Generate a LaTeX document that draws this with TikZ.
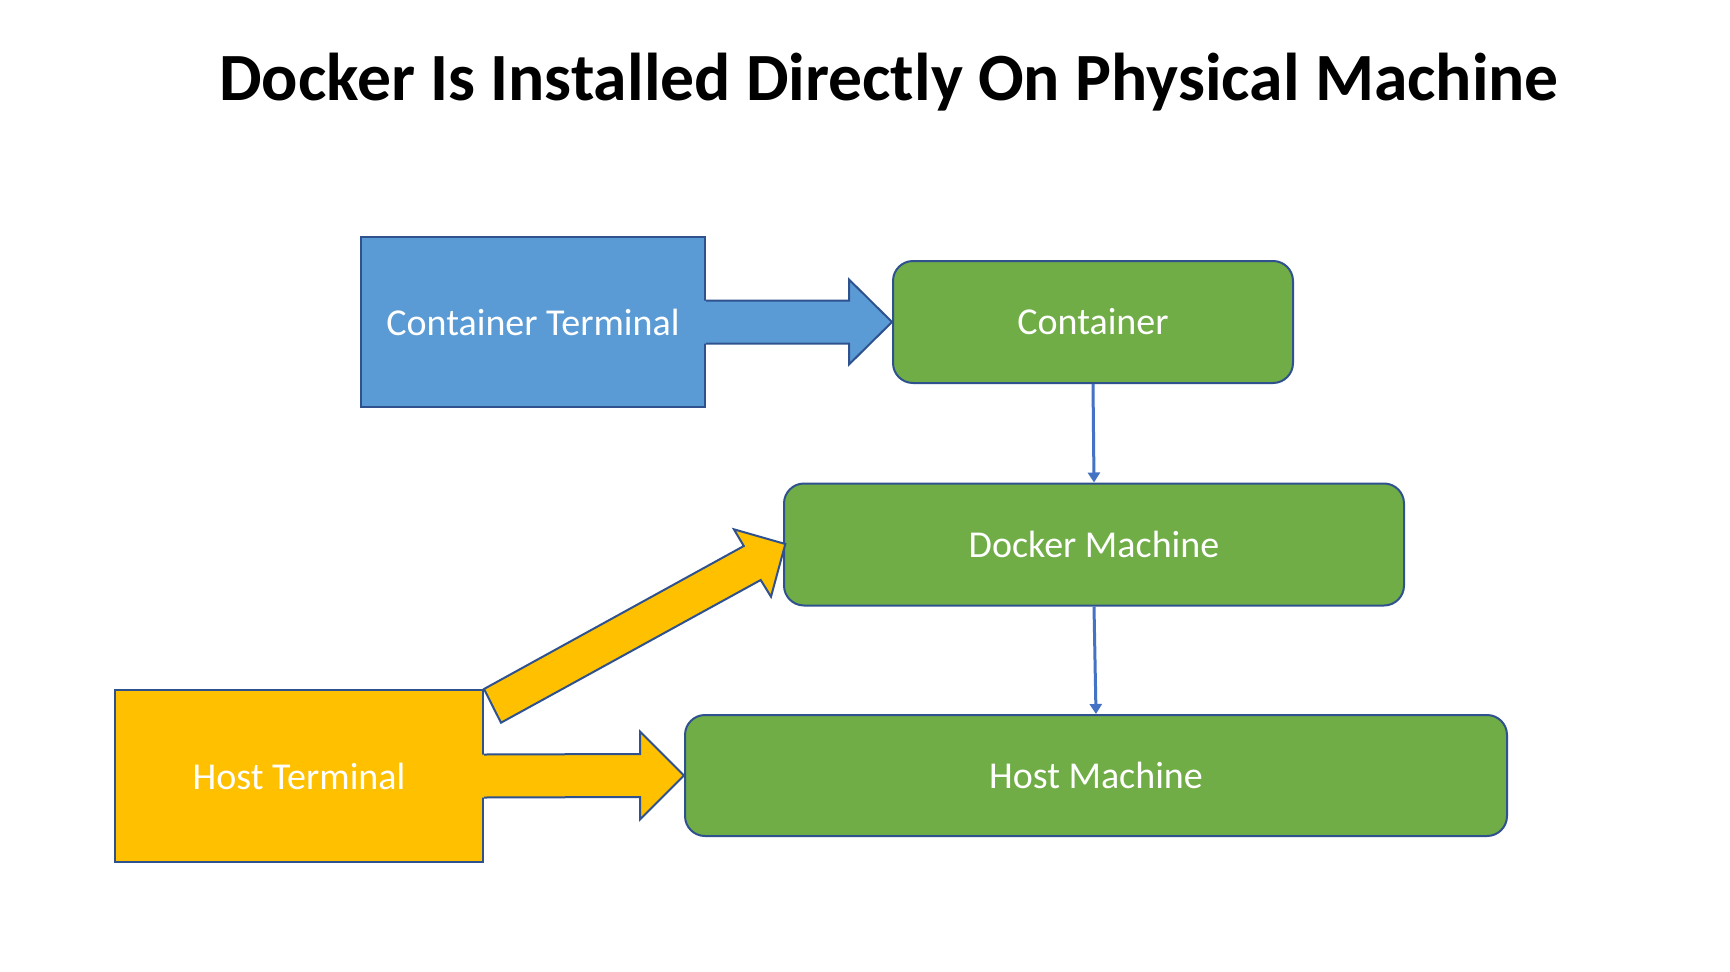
\documentclass[tikz,border=0pt]{standalone}
\usepackage{fontspec}
\setmainfont{Carlito}
\usetikzlibrary{arrows.meta,calc}
\definecolor{boxblue}{HTML}{5B9BD5}
\definecolor{boxgreen}{HTML}{70AD47}
\definecolor{boxyellow}{HTML}{FFC000}
\definecolor{edgeblue}{HTML}{2F528F}
\definecolor{lineblue}{HTML}{4472C4}
\begin{document}
\begin{tikzpicture}[x=1pt,y=-1pt,
  sqbox/.style={draw=edgeblue,line width=2pt,text=white,inner sep=0pt,
    font=\fontsize{38}{45}\selectfont},
  rbox/.style={sqbox,fill=boxgreen,rounded corners=20pt},
  link/.style={draw=lineblue,line width=3pt,-{Triangle[width=12pt,length=10pt]}},
  blockedge/.style={draw=edgeblue,line width=2pt,line join=miter},
]
\useasboundingbox (0,0) rectangle (1730,972);
\fill[white] (0,0) rectangle (1730,972);

\node[font=\fontsize{67.6}{80}\selectfont\bfseries,anchor=base] (title) at (889,100.7)
  {Docker Is Installed Directly On Physical Machine};

% boxes
\node[sqbox,fill=boxblue,minimum width=344pt,minimum height=170pt] (ct) at (533,322) {Container Terminal};
\node[sqbox,fill=boxyellow,minimum width=368pt,minimum height=172pt] (ht) at (299,776) {Host Terminal};
\node[rbox,minimum width=400pt,minimum height=122pt] (c) at (1093,322) {Container};
\node[rbox,minimum width=620pt,minimum height=122pt] (dm) at (1094,544.5) {Docker Machine};
\node[rbox,minimum width=822pt,minimum height=121pt] (hm) at (1096,775.5) {Host Machine};

% connectors
\draw[link] (c.south) -- (dm.north);
\draw[link] (dm.south) -- (hm.north);

% blue block arrow: Container Terminal -> Container
\coordinate (bt) at (ct.east);
\coordinate (bh) at (c.west);
\fill[boxblue] ($(bt)+(-2,-21.5)$) -- ($(bh)+(-43,-21.5)$) -- ($(bh)+(-43,-42.5)$) -- (bh)
  -- ($(bh)+(-43,42.5)$) -- ($(bh)+(-43,21.5)$) -- ($(bt)+(-2,21.5)$) -- cycle;
\draw[blockedge] ($(bt)+(0,-21.5)$) -- ($(bh)+(-43,-21.5)$) -- ($(bh)+(-43,-42.5)$) -- (bh)
  -- ($(bh)+(-43,42.5)$) -- ($(bh)+(-43,21.5)$) -- ($(bt)+(0,21.5)$);

% yellow block arrow: Host Terminal -> Host Machine
\coordinate (yt) at (ht.east);
\coordinate (yh) at (hm.west);
\fill[boxyellow] ($(yt)+(-2,-21.5)$) -- ($(yh)+(-44,-21.5)$) -- ($(yh)+(-44,-44)$) -- (yh)
  -- ($(yh)+(-44,44)$) -- ($(yh)+(-44,21.5)$) -- ($(yt)+(-2,21.5)$) -- cycle;
\draw[blockedge] ($(yt)+(0,-21.5)$) -- ($(yh)+(-44,-21.5)$) -- ($(yh)+(-44,-44)$) -- (yh)
  -- ($(yh)+(-44,44)$) -- ($(yh)+(-44,21.5)$) -- ($(yt)+(0,21.5)$);

% yellow diagonal block arrow: Host Terminal -> Docker Machine
\coordinate (dt) at (ht.north east);
\coordinate (dh) at (785.3,544);
\draw[blockedge,fill=boxyellow] (dt) -- (743.8,546) -- (733.9,529.3) -- (dh)
  -- (771,596.7) -- (760.7,580) -- (501,722.7) -- cycle;
\end{tikzpicture}
\end{document}
